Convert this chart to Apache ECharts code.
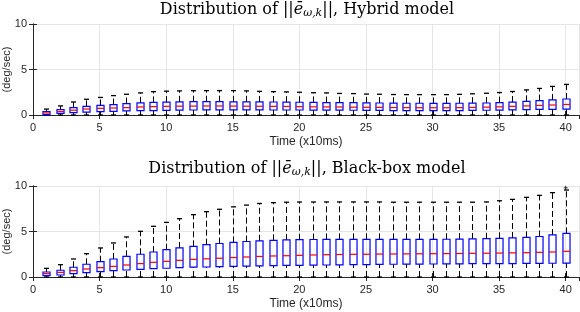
<!DOCTYPE html>
<html>
<head>
<meta charset="utf-8">
<script src="https://cdn.jsdelivr.net/npm/echarts@6/dist/echarts.min.js"></script>
<style>html,body{margin:0;padding:0;background:#fff}#c{width:580px;height:312px}</style>
</head>
<body>
<div id="c"></div>
<script>
// ---- data ----
var steps = [];
for (var i = 1; i <= 40; i++) steps.push(i);

var hybridLow = [0,0,0,0,0,0,0,0,0,0,0,0,0,0,0,0,0,0,0,0,0,0,0,0,0,0,0,0,0,0,0,0,0,0,0,0,0,0,0,0];
var hybridQ1 = [0.05,0.18,0.27,0.32,0.36,0.4,0.45,0.48,0.49,0.51,0.53,0.55,0.56,0.56,0.56,0.56,0.56,0.55,0.55,0.55,0.54,0.53,0.53,0.52,0.51,0.5,0.49,0.49,0.48,0.48,0.48,0.49,0.5,0.52,0.54,0.57,0.59,0.61,0.62,0.64];
var hybridMedian = [0.22,0.38,0.53,0.66,0.73,0.77,0.81,0.88,0.92,0.95,0.97,0.98,0.99,0.99,0.98,0.97,0.96,0.95,0.94,0.92,0.9,0.89,0.88,0.86,0.85,0.84,0.82,0.81,0.8,0.8,0.8,0.81,0.83,0.86,0.9,0.95,1.0,1.05,1.1,1.16];
var hybridQ3 = [0.36,0.6,0.8,0.95,1.05,1.15,1.26,1.34,1.38,1.42,1.45,1.46,1.46,1.46,1.45,1.45,1.44,1.43,1.42,1.4,1.38,1.37,1.36,1.35,1.34,1.32,1.3,1.29,1.29,1.28,1.28,1.29,1.3,1.32,1.36,1.42,1.5,1.58,1.66,1.76];
var hybridHigh = [0.65,1.0,1.43,1.73,1.93,2.13,2.28,2.43,2.57,2.62,2.65,2.67,2.68,2.68,2.68,2.65,2.6,2.57,2.54,2.5,2.45,2.43,2.37,2.35,2.3,2.28,2.25,2.24,2.24,2.24,2.24,2.27,2.33,2.39,2.47,2.58,2.76,2.92,3.14,3.36];

var blackLow = [0,0,0,0,0,0,0,0,0,0,0,0,0,0,0,0,0,0,0,0,0,0,0,0,0,0,0,0,0,0,0,0,0,0,0,0,0,0,0,0];
var blackQ1 = [0.15,0.22,0.37,0.48,0.59,0.7,0.77,0.84,0.92,0.96,1.03,1.08,1.1,1.13,1.16,1.19,1.22,1.25,1.27,1.28,1.3,1.32,1.33,1.35,1.36,1.38,1.4,1.41,1.42,1.43,1.44,1.45,1.46,1.47,1.47,1.48,1.49,1.5,1.51,1.53];
var blackMedian = [0.37,0.51,0.7,0.88,1.03,1.17,1.32,1.47,1.61,1.72,1.83,1.94,2.0,2.06,2.14,2.2,2.26,2.31,2.34,2.38,2.42,2.45,2.47,2.49,2.5,2.52,2.53,2.54,2.55,2.56,2.57,2.58,2.6,2.61,2.63,2.65,2.67,2.71,2.75,2.82];
var blackQ3 = [0.55,0.74,1.07,1.4,1.68,1.98,2.27,2.5,2.75,3.0,3.19,3.37,3.55,3.68,3.8,3.9,3.98,4.03,4.07,4.1,4.12,4.13,4.14,4.14,4.14,4.14,4.14,4.14,4.14,4.14,4.15,4.16,4.18,4.21,4.25,4.29,4.36,4.45,4.62,4.8];
var blackHigh = [0.95,1.35,1.98,2.56,3.19,3.74,4.4,5.02,5.57,6.0,6.41,6.85,7.18,7.44,7.71,7.9,8.08,8.17,8.22,8.24,8.24,8.25,8.25,8.25,8.25,8.25,8.22,8.22,8.22,8.22,8.22,8.22,8.22,8.25,8.38,8.53,8.75,8.97,9.27,9.56];
var blackOutliers = [[40, 9.8]];

var xTicks = [0,5,10,15,20,25,30,35,40];
var yTicks = [0,5,10];
var titleTop = 'Distribution of ||{it|ē}{sub|ω,k}||, Hybrid model';
var titleBottom = 'Distribution of ||{it|ē}{sub|ω,k}||, Black-box model';
var yName = '(deg/sec)';
var xName = 'Time (x10ms)';

function rows(low, q1, med, q3, high) {
  return steps.map(function (s, i) { return [s, low[i], q1[i], med[i], q3[i], high[i]]; });
}

var axisColor = '#262626';
var sansFont = 'Liberation Sans, Arial, sans-serif';
var serifFont = 'DejaVu Serif, serif';

function renderBox(params, api) {
  var x = api.value(0);
  var pLow = api.coord([x, api.value(1)]);
  var pQ1 = api.coord([x, api.value(2)]);
  var pMed = api.coord([x, api.value(3)]);
  var pQ3 = api.coord([x, api.value(4)]);
  var pHigh = api.coord([x, api.value(5)]);
  var bw = api.size([1, 0])[0] * 0.53;
  var h = bw / 2;
  var cx = Math.round(pMed[0]) + 0.5;
  var cap = 2.5;
  var dash = { stroke: '#000', lineWidth: 1, lineDash: [6, 3] };
  var solid = { stroke: '#000', lineWidth: 1.3 };
  return {
    type: 'group',
    children: [
      { type: 'line', shape: { x1: cx, y1: pQ3[1], x2: cx, y2: pHigh[1] }, style: dash },
      { type: 'line', shape: { x1: cx, y1: pLow[1], x2: cx, y2: pQ1[1] }, style: dash },
      { type: 'line', shape: { x1: cx - cap, y1: pHigh[1], x2: cx + cap, y2: pHigh[1] }, style: solid },
      { type: 'line', shape: { x1: cx - cap, y1: pLow[1], x2: cx + cap, y2: pLow[1] }, style: solid },
      { type: 'rect', shape: { x: cx - h, y: pQ3[1], width: bw, height: pQ1[1] - pQ3[1] },
        style: { fill: 'none', stroke: '#0000ff', lineWidth: 1.2 } },
      { type: 'line', shape: { x1: cx - h, y1: pMed[1], x2: cx + h, y2: pMed[1] },
        style: { stroke: '#ff0000', lineWidth: 1.2 } }
    ]
  };
}

function mkX(gi, top) {
  return {
    type: 'value', gridIndex: gi, min: 0, max: 41, interval: 5,
    position: top ? 'top' : 'bottom',
    name: top ? '' : xName, nameLocation: 'middle', nameGap: 21, nameMoveOverlap: false,
    nameTextStyle: { fontFamily: sansFont, fontSize: 12, color: axisColor },
    axisLine: { show: true, lineStyle: { color: axisColor, width: 1 } },
    axisTick: { show: true, inside: true, length: 4, lineStyle: { color: axisColor } },
    axisLabel: { show: !top, fontFamily: sansFont, fontSize: 11, color: axisColor, margin: 7, showMaxLabel: false },
    splitLine: { show: !top, lineStyle: { color: '#e6e6e6', width: 1 } }
  };
}
function mkY(gi, right) {
  return {
    type: 'value', gridIndex: gi, min: 0, max: 10, interval: 5,
    position: right ? 'right' : 'left',
    name: right ? '' : yName, nameLocation: 'middle', nameGap: 21, nameRotate: 90, nameMoveOverlap: false,
    nameTextStyle: { fontFamily: sansFont, fontSize: 11, color: axisColor },
    axisLine: { show: true, lineStyle: { color: axisColor, width: 1 } },
    axisTick: { show: true, inside: true, length: 4, lineStyle: { color: axisColor } },
    axisLabel: { show: !right, fontFamily: sansFont, fontSize: 11, color: axisColor, margin: 6 },
    splitLine: { show: !right, lineStyle: { color: '#e6e6e6', width: 1 } }
  };
}
function mkTitle(text, top) {
  return {
    text: text, left: 307, top: top, textAlign: 'center', padding: 0,
    textStyle: {
      fontFamily: serifFont, fontSize: 16, fontWeight: 'normal', color: '#000',
      lineHeight: 18,
      rich: {
        it: { fontFamily: serifFont, fontSize: 16, fontStyle: 'italic', color: '#000', lineHeight: 18 },
        sub: { fontFamily: serifFont, fontSize: 11, fontStyle: 'italic', color: '#000', lineHeight: 11, verticalAlign: 'bottom', padding: [4, 0, 0, 0] }
      }
    }
  };
}

var chart = echarts.init(document.getElementById('c'), null, { renderer: 'canvas' });
chart.setOption({
  animation: false,
  backgroundColor: '#fff',
  title: [mkTitle(titleTop, 1), mkTitle(titleBottom, 160)],
  grid: [
    { left: 33, width: 546, top: 24, height: 91, outerBoundsMode: 'none', containLabel: false },
    { left: 33, width: 546, top: 186, height: 91, outerBoundsMode: 'none', containLabel: false }
  ],
  xAxis: [mkX(0, false), mkX(0, true), mkX(1, false), mkX(1, true)],
  yAxis: [mkY(0, false), mkY(0, true), mkY(1, false), mkY(1, true)],
  series: [
    { type: 'custom', xAxisIndex: 0, yAxisIndex: 0, renderItem: renderBox,
      encode: { x: 0, y: [1, 2, 3, 4, 5] },
      data: rows(hybridLow, hybridQ1, hybridMedian, hybridQ3, hybridHigh) },
    { type: 'custom', xAxisIndex: 2, yAxisIndex: 2, renderItem: renderBox,
      encode: { x: 0, y: [1, 2, 3, 4, 5] },
      data: rows(blackLow, blackQ1, blackMedian, blackQ3, blackHigh) },
    { type: 'scatter', xAxisIndex: 2, yAxisIndex: 2, symbol: 'path://M0,5L10,5M5,0L5,10', symbolSize: 4,
      itemStyle: { color: 'none', borderColor: '#000', borderWidth: 1 }, data: blackOutliers }
  ]
});
</script>
</body>
</html>
